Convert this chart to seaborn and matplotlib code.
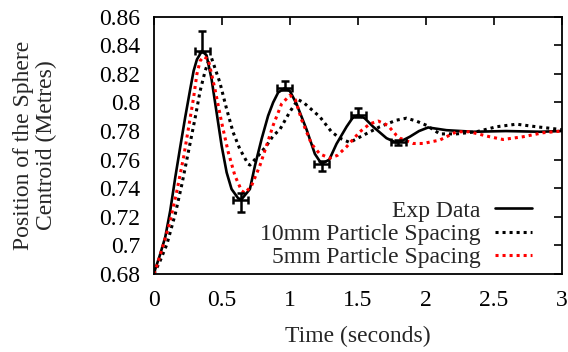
import numpy as np
import pandas as pd
import matplotlib
matplotlib.use("Agg")
import matplotlib.pyplot as plt
import seaborn as sns

# experimental curve (smoothed line through the measurements)
exp_t = [0.0, 0.01, 0.04, 0.083, 0.12, 0.157, 0.193, 0.23, 0.267, 0.292, 0.316, 0.353, 0.387,
         0.424, 0.461, 0.498, 0.535, 0.571, 0.62, 0.645, 0.706, 0.743, 0.792, 0.84, 0.877, 0.914,
         0.963, 1.0, 1.049, 1.123, 1.184, 1.233, 1.29, 1.343, 1.417, 1.46, 1.502, 1.55, 1.613,
         1.711, 1.78, 1.82, 1.882, 1.95, 2.017, 2.152, 2.35, 2.59, 2.84, 3.0]
exp_y = [0.680, 0.6835, 0.692, 0.7057, 0.7243, 0.7476, 0.7686, 0.7896, 0.8093, 0.8221, 0.830, 0.836, 0.833,
         0.8163, 0.793, 0.7697, 0.751, 0.7394, 0.7329, 0.7323, 0.7394, 0.7557, 0.7744, 0.7907, 0.800, 0.807,
         0.810, 0.808, 0.799, 0.781, 0.764, 0.757, 0.760, 0.771, 0.783, 0.789, 0.791, 0.789, 0.783,
         0.775, 0.772, 0.773, 0.776, 0.780, 0.7825, 0.7806, 0.7795, 0.780, 0.7795, 0.780]

# 10mm particle spacing simulation
sim10_t = [0.0, 0.046, 0.096, 0.157, 0.206, 0.255, 0.304, 0.34, 0.377, 0.402, 0.424, 0.485, 0.535,
           0.583, 0.632, 0.693, 0.706, 0.767, 0.828, 0.877, 0.926, 1.0, 1.06, 1.1, 1.22, 1.306,
           1.368, 1.44, 1.539, 1.662, 1.784, 1.858, 1.93, 2.005, 2.103, 2.226, 2.373, 2.52,
           2.667, 2.814, 3.0]
sim10_y = [0.680, 0.6893, 0.701, 0.722, 0.7429, 0.7662, 0.7896, 0.8081, 0.8221, 0.829, 0.831, 0.814, 0.7953,
           0.779, 0.7674, 0.7569, 0.7562, 0.7627, 0.7697, 0.7767, 0.781, 0.7935, 0.802, 0.800, 0.790, 0.7795,
           0.775, 0.772, 0.777, 0.783, 0.7876, 0.789, 0.787, 0.784, 0.778, 0.778, 0.7795, 0.783,
           0.7848, 0.783, 0.781]

# 5mm particle spacing simulation
sim5_t = [0.0, 0.022, 0.071, 0.12, 0.169, 0.218, 0.255, 0.292, 0.316, 0.34, 0.365, 0.399, 0.449,
          0.498, 0.547, 0.596, 0.645, 0.669, 0.718, 0.779, 0.828, 0.877, 0.939, 1.0, 1.04, 1.086,
          1.159, 1.22, 1.294, 1.35, 1.417, 1.515, 1.588, 1.65, 1.72, 1.784, 1.81, 1.907, 1.98,
          2.103, 2.226, 2.32, 2.47, 2.568, 2.715, 2.862, 3.0]
sim5_y = [0.680, 0.6858, 0.701, 0.7173, 0.7382, 0.7616, 0.7825, 0.8035, 0.8198, 0.8291, 0.832, 0.8304, 0.8093,
          0.786, 0.7651, 0.7487, 0.7382, 0.7366, 0.7417, 0.7557, 0.7697, 0.784, 0.799, 0.805, 0.802, 0.788,
          0.771, 0.764, 0.761, 0.763, 0.769, 0.7795, 0.785, 0.787, 0.784, 0.777, 0.775, 0.7713, 0.7713,
          0.7737, 0.7795, 0.7795, 0.776, 0.7741, 0.776, 0.7788, 0.780]

# measured points with error bars
pts_t = [0.355, 0.64, 0.963, 1.233, 1.502, 1.796]
pts_y = [0.836, 0.732, 0.810, 0.757, 0.791, 0.772]
pts_ylo = [0.001, 0.0089, 0.0014, 0.005, 0.0014, 0.002]
pts_yhi = [0.014, 0.0046, 0.005, 0.002, 0.005, 0.002]
pts_xerr = [0.055, 0.055, 0.055, 0.055, 0.055, 0.055]

sns.set_style("white")
plt.rcParams['font.family'] = ['Liberation Serif', 'DejaVu Serif']
fs = 17

fig = plt.figure(figsize=(5.68, 3.52), dpi=100)
ax = fig.add_axes([0.271, 0.2216, 0.718, 0.7310])

sns.lineplot(x=exp_t, y=exp_y, ax=ax, color='black', lw=1.9, sort=False, estimator=None,
             label='Exp Data')
sns.lineplot(x=sim10_t, y=sim10_y, ax=ax, color='black', lw=2.2, sort=False, estimator=None,
             linestyle=(0, (1, 1.3)), label='10mm Particle Spacing')
sns.lineplot(x=sim5_t, y=sim5_y, ax=ax, color='#ff0000', lw=2.2, sort=False, estimator=None,
             linestyle=(0, (1, 1.3)), label='5mm Particle Spacing')
ax.errorbar(pts_t, pts_y, yerr=[pts_ylo, pts_yhi], xerr=pts_xerr, fmt='none', ecolor='black',
            elinewidth=1.8, capsize=2.8, capthick=1.8)

ax.set_xlim(0, 3)
ax.set_ylim(0.68, 0.86)
ax.set_xticks([0, 0.5, 1, 1.5, 2, 2.5, 3])
ax.set_xticklabels(['0', '0.5', '1', '1.5', '2', '2.5', '3'])
yt = [0.68, 0.70, 0.72, 0.74, 0.76, 0.78, 0.80, 0.82, 0.84, 0.86]
ax.set_yticks(yt)
ax.set_yticklabels(['0.68', '0.7', '0.72', '0.74', '0.76', '0.78', '0.8', '0.82', '0.84', '0.86'])
ax.tick_params(axis='both', direction='in', length=6, width=1.2, labelsize=fs,
               top=True, right=True, colors='black')
ax.tick_params(axis='x', pad=11.5)
ax.tick_params(axis='y', pad=10)
for s in ax.spines.values():
    s.set_color('black')
    s.set_linewidth(1.3)

ax.set_xlabel('Time (seconds)', fontsize=fs)
ax.set_ylabel('Position of the Sphere\nCentroid (Metres)', fontsize=fs, linespacing=1.1)
ax.xaxis.set_label_coords(0.5, -0.2)
ax.yaxis.set_label_coords(-0.238, 0.5)

leg = ax.legend(loc='lower right', bbox_to_anchor=(0.928, 0.022), frameon=False, fontsize=fs,
                markerfirst=False, handlelength=1.6, handletextpad=0.6, labelspacing=0.08,
                borderpad=0, borderaxespad=0)

fig.savefig('out.png', dpi=100)
